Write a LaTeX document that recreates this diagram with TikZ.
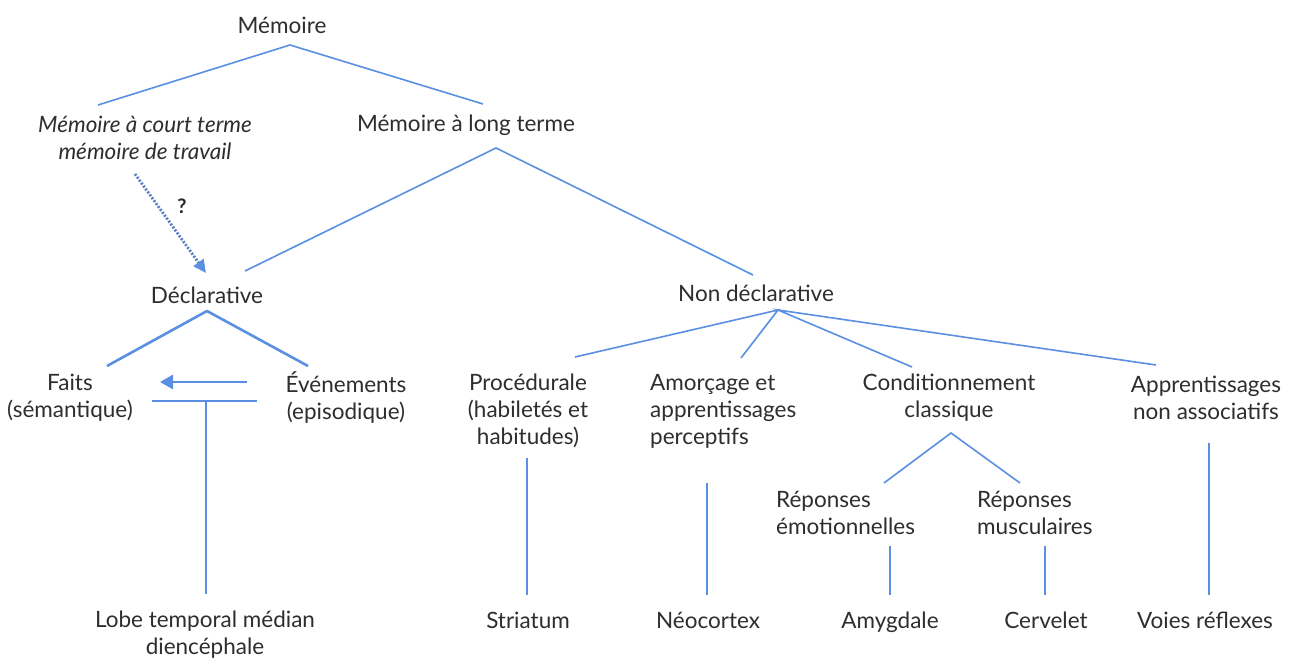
\documentclass[tikz,border=0pt]{standalone}
\usepackage{fontspec}
\setmainfont{Lato}
\usetikzlibrary{arrows.meta}
\definecolor{lblue}{HTML}{5A8FE2}
\definecolor{dblue}{HTML}{5C7CC0}
\tikzset{
  lbl/.style={inner sep=0pt, align=center, font=\fontsize{22.5}{27}\selectfont, text=black!82},
  lbll/.style={lbl, align=left, anchor=west},
  lblb/.style={lbl, anchor=base},
  conn/.style={draw=lblue, line width=1.6pt},
  thick conn/.style={draw=lblue, line width=2.6pt, line join=round},
}
\begin{document}
\begin{tikzpicture}[x=1pt,y=-1pt]
\useasboundingbox (0,0) rectangle (1291,660);
\fill[white] (0,0) rectangle (1291,660);
% texts
\node[lbl] (mem) at (282,25) {Mémoire};
\node[lbl, font=\fontsize{22.5}{27}\selectfont\itshape] (mct) at (145,138) {Mémoire à court terme\\mémoire de travail};
\node[lbl] (mlt) at (466,125) {Mémoire à long terme};
\node[lbl] (decl) at (207,295) {Déclarative};
\node[lbl] (ndecl) at (756,293) {Non déclarative};
\node[lbl] (faits) at (70,398) {Faits\\(sémantique)};
\node[lbl] (even) at (346,398) {Événements\\(episodique)};
\node[lbl] (lobe) at (205,635) {Lobe temporal médian\\diencéphale};
\node[lbl] (proc) at (528,411) {Procédurale\\(habiletés et\\habitudes)};
\node[lbll] (amor) at (650,411) {Amorçage et\\apprentissages\\perceptifs};
\node[lbl] (cond) at (949,398) {Conditionnement\\classique};
\node[lbl] (appr) at (1206,398) {Apprentissages\\non associatifs};
\node[lbll] (remo) at (776,513) {Réponses\\émotionnelles};
\node[lbll] (rmus) at (977,513) {Réponses\\musculaires};
\node[lblb] (stri) at (528,628) {Striatum};
\node[lblb] (neo) at (708,628) {Néocortex};
\node[lblb] (amyg) at (890,628) {Amygdale};
\node[lblb] (cerv) at (1046,628) {Cervelet};
\node[lblb] (voies) at (1205,628) {Voies réflexes};
\node[inner sep=0pt, font=\fontsize{20}{20}\selectfont\bfseries, text=black!85] (q) at (182,206) {?};
% coordinates
\coordinate (memA) at (290,45);
\coordinate (mctT) at (98,105);
\coordinate (mltT) at (483,104);
\coordinate (mltA) at (496,148);
\coordinate (declT) at (245,271);
\coordinate (ndeclT) at (753,275);
\coordinate (mctB) at (135,174);
\coordinate (declArr) at (206,273);
\coordinate (declA) at (207,311);
\coordinate (faitsT) at (107,366);
\coordinate (evenT) at (308,366);
\coordinate (arrS) at (247,382);
\coordinate (arrE) at (160,382);
\coordinate (barL) at (152,401);
\coordinate (barR) at (257,401);
\coordinate (barM) at (206,401);
\coordinate (lobeT) at (206,594);
\coordinate (ndeclA) at (778,310);
\coordinate (procT) at (575,357);
\coordinate (amorT) at (741,358);
\coordinate (condT) at (912,367);
\coordinate (apprT) at (1156,365);
\coordinate (condA) at (951,433);
\coordinate (remoT) at (884,483);
\coordinate (rmusT) at (1020,483);
\coordinate (procB) at (527,458);
\coordinate (striT) at (527,595);
\coordinate (amorB) at (707,483);
\coordinate (neoT) at (707,595);
\coordinate (remoB) at (890,546);
\coordinate (amygT) at (890,595);
\coordinate (rmusB) at (1045,546);
\coordinate (cervT) at (1045,595);
\coordinate (apprB) at (1209,443);
\coordinate (voiesT) at (1209,595);
% connectors
\draw[conn] (mctT) -- (memA) -- (mltT);
\draw[conn] (declT) -- (mltA) -- (ndeclT);
\draw[draw=dblue, line width=2.8pt, dash pattern=on 2pt off 1.6pt, -{Triangle[length=13pt,width=12pt,color=lblue]}] (mctB) -- (declArr);
\draw[thick conn] (faitsT) -- (declA) -- (evenT);
\draw[thick conn, -{Triangle[length=13pt,width=14pt]}] (arrS) -- (arrE);
\draw[conn, line width=2.2pt] (barL) -- (barR);
\draw[conn, line width=2.2pt] (barM) -- (lobeT);
\draw[conn] (procT) -- (ndeclA) -- (amorT);
\draw[conn] (condT) -- (ndeclA) -- (apprT);
\draw[conn] (remoT) -- (condA) -- (rmusT);
\draw[conn] (procB) -- (striT);
\draw[conn] (amorB) -- (neoT);
\draw[conn] (remoB) -- (amygT);
\draw[conn] (rmusB) -- (cervT);
\draw[conn] (apprB) -- (voiesT);
\end{tikzpicture}
\end{document}
